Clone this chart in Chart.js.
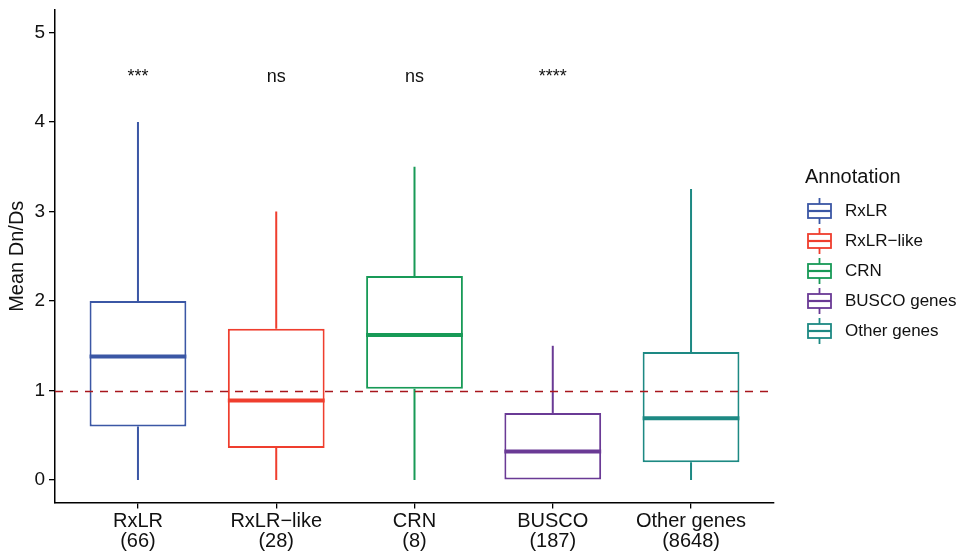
<!DOCTYPE html>
<html><head><meta charset="utf-8">
<script src="https://cdn.jsdelivr.net/npm/chart.js@4.4.0/dist/chart.umd.min.js"></script>
<style>html,body{margin:0;padding:0;background:#fff}#wrap{width:962px;height:554px}</style>
</head><body><div id="wrap"><canvas id="c" width="962" height="554"></canvas></div>
<script>
// ---- data ----
const categories   = ['RxLR', 'RxLR\u2212like', 'CRN', 'BUSCO', 'Other genes'];
const counts       = [66, 28, 8, 187, 8648];
const legendLabels = ['RxLR', 'RxLR\u2212like', 'CRN', 'BUSCO genes', 'Other genes'];
const whiskerLow   = [0, 0, 0, 0, 0];
const q1Values     = [0.6, 0.36, 1.02, 0, 0.2];
const medianValues = [1.38, 0.89, 1.62, 0.32, 0.69];
const q3Values     = [2.0, 1.69, 2.28, 0.75, 1.43];
const whiskerHigh  = [4.0, 3.0, 3.5, 1.5, 3.25];
const sigLabels    = ['***', 'ns', 'ns', '****', ''];
const yTicks       = [0, 1, 2, 3, 4, 5];
const refValue     = 1;
const sigLabelY    = 4.45;

// ---- styles ----
const colors = ['#3B57A5', '#EF3E2E', '#189A57', '#6A3A95', '#1D8983'];
const FONT = '"Liberation Sans", Arial, Helvetica, sans-serif';
const TXT = '#111';

const boxPlugin = {
  id: 'boxParts',
  beforeDatasetsDraw(chart) {
    const ctx = chart.ctx, xs = chart.scales.x, ys = chart.scales.y;
    ctx.save();
    ctx.lineWidth = 2;
    ctx.lineCap = 'butt';
    categories.forEach((c, i) => {
      const x = xs.getPixelForValue(i + 1);
      ctx.strokeStyle = colors[i];
      ctx.beginPath();
      ctx.moveTo(x, ys.getPixelForValue(q3Values[i]));
      ctx.lineTo(x, ys.getPixelForValue(whiskerHigh[i]));
      ctx.moveTo(x, ys.getPixelForValue(q1Values[i]));
      ctx.lineTo(x, ys.getPixelForValue(whiskerLow[i]));
      ctx.stroke();
    });
    ctx.restore();
  },
  afterDatasetsDraw(chart) {
    const ctx = chart.ctx, xs = chart.scales.x, ys = chart.scales.y, ca = chart.chartArea;
    const meta = chart.getDatasetMeta(0);
    ctx.save();
    // medians
    categories.forEach((c, i) => {
      const bar = meta.data[i];
      const w = bar.width;
      const x = bar.x;
      const y = ys.getPixelForValue(medianValues[i]);
      ctx.strokeStyle = colors[i];
      ctx.lineWidth = 4;
      ctx.beginPath();
      ctx.moveTo(x - w / 2, y);
      ctx.lineTo(x + w / 2, y);
      ctx.stroke();
    });
    // reference line
    const yr = Math.round(ys.getPixelForValue(refValue)) + 0.5;
    ctx.strokeStyle = '#A8161C';
    ctx.lineWidth = 1.4;
    ctx.setLineDash([8, 7]);
    ctx.beginPath();
    ctx.moveTo(ca.left, yr);
    ctx.lineTo(ca.right, yr);
    ctx.stroke();
    ctx.setLineDash([]);
    // significance labels
    ctx.fillStyle = TXT;
    ctx.font = '18px ' + FONT;
    ctx.textAlign = 'center';
    ctx.textBaseline = 'alphabetic';
    sigLabels.forEach((s, i) => {
      if (!s) return;
      ctx.fillText(s, xs.getPixelForValue(i + 1), ys.getPixelForValue(sigLabelY));
    });
    // legend
    const lx = 806;
    ctx.textAlign = 'left';
    ctx.textBaseline = 'middle';
    ctx.font = '20px ' + FONT;
    ctx.fillText('Annotation', lx - 1, 177);
    ctx.font = '17px ' + FONT;
    legendLabels.forEach((l, i) => {
      const cy = 211 + i * 30;
      const bx = lx + 2, bw = 23, bh = 14;
      ctx.strokeStyle = colors[i];
      ctx.lineWidth = 1.8;
      ctx.beginPath();
      ctx.moveTo(bx + bw / 2, cy - 13); ctx.lineTo(bx + bw / 2, cy - bh / 2);
      ctx.moveTo(bx + bw / 2, cy + bh / 2); ctx.lineTo(bx + bw / 2, cy + 13);
      ctx.stroke();
      ctx.strokeRect(bx, cy - bh / 2, bw, bh);
      ctx.lineWidth = 2.2;
      ctx.beginPath();
      ctx.moveTo(bx, cy); ctx.lineTo(bx + bw, cy);
      ctx.stroke();
      ctx.fillStyle = TXT;
      ctx.fillText(l, 845, cy + 0.5);
    });
    ctx.restore();
  }
};

new Chart(document.getElementById('c'), {
  type: 'bar',
  data: {
    datasets: [{
      data: categories.map((c, i) => ({ x: i + 1, y: [q1Values[i], q3Values[i]] })),
      backgroundColor: '#ffffff',
      borderColor: colors,
      borderWidth: 2,
      borderSkipped: false,
      barPercentage: 0.7,
      categoryPercentage: 1.0
    }]
  },
  options: {
    responsive: false,
    animation: false,
    devicePixelRatio: 1,
    layout: { padding: { top: 10, right: 188, left: 0, bottom: 0 } },
    plugins: { legend: { display: false }, tooltip: { enabled: false } },
    scales: {
      x: {
        type: 'linear',
        min: 0.4, max: 5.6,
        offset: false,
        afterBuildTicks: s => { s.ticks = categories.map((c, i) => ({ value: i + 1 })); },
        afterFit: s => { s.height = 51.5; s.paddingLeft = 0; s.paddingRight = 0; },
        ticks: {
          autoSkip: false, maxRotation: 0, padding: 3,
          color: TXT,
          font: { family: FONT, size: 20, lineHeight: 1.0 },
          callback: (v, i) => [categories[i], '(' + counts[i] + ')']
        },
        grid: { offset: false, drawOnChartArea: false, drawTicks: true, tickLength: 6, color: '#000', lineWidth: 1.3 },
        border: { display: true, color: '#000', width: 1.5 }
      },
      y: {
        min: -0.25, max: 5.25,
        afterBuildTicks: s => { s.ticks = yTicks.map(v => ({ value: v })); },
        afterFit: s => { s.width = 55; s.paddingTop = 0; s.paddingBottom = 0; },
        ticks: { padding: 4, color: TXT, font: { family: FONT, size: 19, lineHeight: 1.0 } },
        grid: { drawOnChartArea: false, drawTicks: true, tickLength: 6, color: '#000', lineWidth: 1.3 },
        border: { display: true, color: '#000', width: 1.5 },
        title: { display: true, text: 'Mean Dn/Ds', color: TXT, font: { family: FONT, size: 20 }, padding: { top: 5.5, bottom: 0 } }
      }
    }
  },
  plugins: [boxPlugin]
});
</script>
</body></html>
